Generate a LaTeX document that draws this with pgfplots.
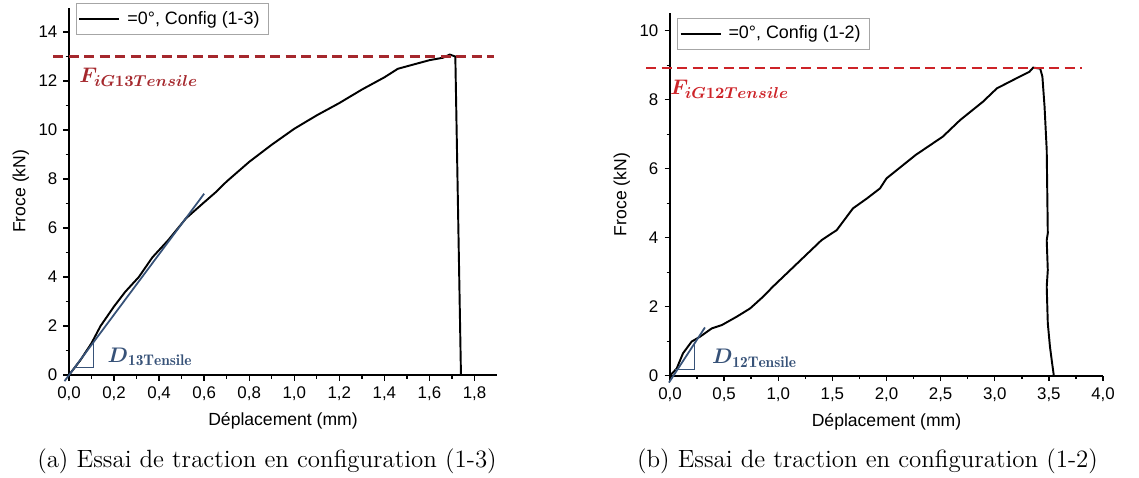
\documentclass[border=0pt]{standalone}
\usepackage{fontspec}
\usepackage{amsmath}
\usepackage{pgfplots}
\pgfplotsset{compat=1.18}
\newfontfamily\arial{Liberation Sans}
\definecolor{limitA}{RGB}{165,40,45}
\definecolor{limitB}{RGB}{205,35,40}
\definecolor{tangent}{RGB}{55,82,120}

\pgfplotsset{
  essai/.style={
    scale only axis,
    axis lines*=left,
    axis line style={-,line width=1.1pt},
    tick align=outside,
    tick style={black,line width=0.8pt},
    major tick length=1.1mm,
    minor tick length=0.7mm,
    minor x tick num=1,
    minor y tick num=1,
    tick label style={font=\arial\fontsize{9.6}{11}\selectfont},
    label style={font=\arial\fontsize{10}{12}\selectfont},
    /pgf/number format/assume math mode=true,
    /pgf/number format/use comma,
    xticklabel style={/pgf/number format/.cd,fixed,fixed zerofill,precision=1,use comma},
    clip=false,
    legend style={draw=gray!70,line width=0.6pt,font=\arial\fontsize{10.2}{12}\selectfont,
      inner xsep=0.4mm,inner ysep=0.8mm,anchor=north west},
    legend cell align=left,
    legend image code/.code={\draw[#1,line width=1.1pt] (0mm,0mm) -- (8mm,0mm);},
    legend style={nodes={inner xsep=1.4mm}},
  },
}

\begin{document}
\begin{tikzpicture}
\useasboundingbox (0,0) rectangle (227.8mm,-95.4mm);

% (a) configuration 1-3
\begin{axis}[essai,
    at={(13.8mm,-75mm)}, anchor=south west,
    width=85.6mm, height=73.5mm,
    xmin=0, xmax=1.9, ymin=0, ymax=15,
    xtick={0,0.2,...,1.8},
    ytick={0,2,...,14},
    xlabel={Déplacement (mm)},
    ylabel={Froce (kN)},
    ylabel style={yshift=-0.5mm},
    legend style={at={(axis cs:0.031,15.18)}},
]
\addplot[black,line width=1.1pt] coordinates {
  (0,0) (0.05,0.6) (0.1,1.3) (0.14,2.0) (0.2,2.8) (0.25,3.4) (0.31,4.0)
  (0.37,4.8) (0.44,5.5) (0.52,6.4) (0.6,7.05) (0.65,7.45) (0.7,7.9)
  (0.8,8.7) (0.9,9.4) (1.0,10.05) (1.1,10.6) (1.2,11.1) (1.3,11.65)
  (1.4,12.15) (1.46,12.5) (1.5,12.6) (1.6,12.85) (1.66,12.95)
  (1.69,13.08) (1.715,13.0) (1.74,0)
};
\addlegendentry{=0°, Config (1-3)}
\addplot[tangent,line width=1pt,forget plot] coordinates {(-0.02,-0.25) (0.6,7.4)};
\addplot[tangent,line width=0.6pt,forget plot] coordinates {(0.024,0.3) (0.107,0.3) (0.107,1.31)};
\addplot[limitA,line width=1.2pt,dash pattern=on 2mm off 1.1mm,forget plot]
  coordinates {(-0.07,13) (1.885,13)};
\node[anchor=west,text=limitA,font=\fontsize{12.5}{14}\selectfont,inner sep=0pt]
  at (axis cs:0.045,12.15) {$\boldsymbol{F_{iG13Tensile}}$};
\node[anchor=west,text=tangent,font=\fontsize{12.5}{14}\selectfont,inner sep=0pt]
  at (axis cs:0.17,0.75) {$\boldsymbol{D}_{\mathbf{13Tensile}}$};
\end{axis}

% (b) configuration 1-2
\begin{axis}[essai,
    at={(134mm,-75.14mm)}, anchor=south west,
    width=86.6mm, height=72.45mm,
    xmin=0, xmax=4, ymin=0, ymax=10.5,
    xtick={0,0.5,...,4},
    ytick={0,2,...,10},
    xlabel={Déplacement (mm)},
    ylabel={Froce (kN)},
    ylabel style={yshift=-0.5mm},
    legend style={at={(axis cs:0.065,10.37)}},
]
\addplot[black,line width=1.1pt] coordinates {
  (0,0) (0.062,0.21) (0.12,0.65) (0.2,0.99) (0.277,1.13) (0.385,1.37)
  (0.48,1.47) (0.616,1.71) (0.74,1.95) (0.86,2.29) (0.95,2.58) (1.08,2.97)
  (1.29,3.6) (1.40,3.93) (1.54,4.22) (1.69,4.85) (1.82,5.14) (1.94,5.43)
  (2.0,5.72) (2.27,6.4) (2.52,6.93) (2.68,7.41) (2.89,7.94) (3.02,8.33)
  (3.2,8.62) (3.32,8.81) (3.355,8.93) (3.42,8.9) (3.44,8.67) (3.46,7.8)
  (3.48,6.54) (3.49,4.13) (3.48,3.93) (3.49,3.06) (3.48,2.58) (3.49,1.52)
  (3.51,0.84) (3.53,0.36) (3.545,0.02)
};
\addlegendentry{=0°, Config (1-2)}
\addplot[tangent,line width=1pt,forget plot] coordinates {(-0.01,-0.2) (0.323,1.40)};
\addplot[tangent,line width=0.6pt,forget plot] coordinates {(0.044,0.19) (0.225,0.19) (0.225,0.97)};
\addplot[limitB,line width=1.2pt,dash pattern=on 2mm off 1.1mm,forget plot]
  coordinates {(-0.22,8.93) (3.81,8.93)};
\node[anchor=west,text=limitB,font=\fontsize{12.5}{14}\selectfont,inner sep=0pt]
  at (axis cs:0.0,8.3) {$\boldsymbol{F_{iG12Tensile}}$};
\node[anchor=west,text=tangent,font=\fontsize{12.5}{14}\selectfont,inner sep=0pt]
  at (axis cs:0.385,0.5) {$\boldsymbol{D}_{\mathbf{12Tensile}}$};
\end{axis}

\node[font=\fontsize{14.2}{16}\selectfont] at (53.4mm,-92.2mm)
  {(a) Essai de traction en configuration (1-3)};
\node[font=\fontsize{14.2}{16}\selectfont] at (173.5mm,-92.2mm)
  {(b) Essai de traction en configuration (1-2)};
\end{tikzpicture}
\end{document}
